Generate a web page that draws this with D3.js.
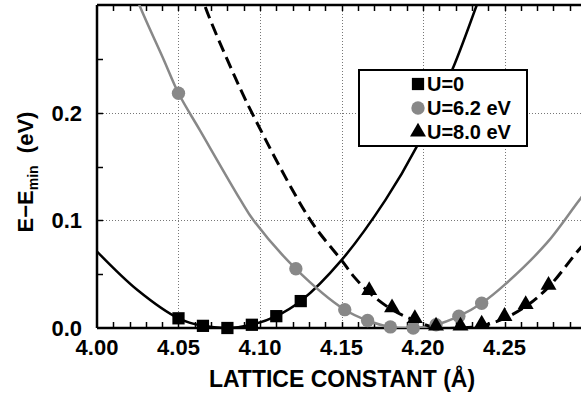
<!DOCTYPE html>
<html>
<head>
<meta charset="utf-8">
<script src="https://cdn.jsdelivr.net/npm/d3@7"></script>
<style>
  body { margin: 0; background: #fff; }
  text { font-family: "Liberation Sans", Arial, sans-serif; font-weight: bold; fill: #000; }
</style>
</head>
<body>
<div id="chart"></div>
<script>
// tick labels
var xTicks = [4.00, 4.05, 4.10, 4.15, 4.20, 4.25];
var yTicks = [0.0, 0.1, 0.2];
var legendLabels = ["U=0", "U=6.2 eV", "U=8.0 eV"];

// U=0 : computed points and fitted curve
var u0X = [4.050, 4.065, 4.080, 4.095, 4.110, 4.125];
var u0E = [0.009, 0.002, 0.000, 0.003, 0.011, 0.025];
var u0CurveX = [4.000, 4.025, 4.050, 4.065, 4.080, 4.095, 4.110, 4.125, 4.150, 4.177, 4.196, 4.218, 4.233, 4.245];
var u0CurveE = [0.071, 0.035, 0.009, 0.002, 0.000, 0.003, 0.011, 0.025, 0.063, 0.119, 0.168, 0.240, 0.300, 0.350];

// U=6.2 eV
var u62X = [4.050, 4.122, 4.152, 4.166, 4.180, 4.194, 4.208, 4.222, 4.236];
var u62E = [0.218, 0.055, 0.017, 0.007, 0.001, 0.000, 0.003, 0.011, 0.023];
var u62CurveX = [4.020, 4.026, 4.041, 4.050, 4.063, 4.088, 4.096, 4.122, 4.152, 4.166, 4.180, 4.194, 4.208, 4.222, 4.236, 4.250, 4.276, 4.297, 4.310];
var u62CurveE = [0.325, 0.300, 0.249, 0.218, 0.184, 0.119, 0.100, 0.055, 0.017, 0.007, 0.001, 0.000, 0.003, 0.011, 0.023, 0.040, 0.079, 0.121, 0.145];

// U=8.0 eV
var u80X = [4.167, 4.181, 4.195, 4.208, 4.223, 4.236, 4.250, 4.263, 4.277];
var u80E = [0.033, 0.017, 0.007, 0.000, 0.000, 0.002, 0.009, 0.020, 0.038];
var u80CurveX = [4.060, 4.066, 4.080, 4.095, 4.131, 4.150, 4.158, 4.167, 4.181, 4.195, 4.208, 4.223, 4.236, 4.250, 4.263, 4.277, 4.297, 4.310];
var u80CurveE = [0.330, 0.300, 0.249, 0.200, 0.100, 0.063, 0.047, 0.033, 0.017, 0.007, 0.000, 0.000, 0.002, 0.009, 0.020, 0.038, 0.075, 0.095];

var W = 581, H = 396;
var plotL = 97, plotR = 586, plotT = 5, plotB = 328;

var svg = d3.select("#chart")
  .append("svg")
    .attr("width", W)
    .attr("height", H);

var x = d3.scaleLinear().domain([4.00, 4.30]).range([plotL, plotR]);
var y = d3.scaleLinear().domain([0, 0.3]).range([plotB, plotT]);
var px = v => Math.round(x(v)) + 0.5;   // snap thin lines to pixels
var py = v => Math.round(y(v)) + 0.5;

svg.append("clipPath").attr("id", "plot")
  .append("rect")
    .attr("x", plotL).attr("y", plotT)
    .attr("width", plotR - plotL).attr("height", plotB - plotT);

// dotted grid
var grid = svg.append("g").attr("stroke", "#777").attr("stroke-width", 1).attr("stroke-dasharray", "1,2");
grid.selectAll(".gx").data(xTicks.slice(1).concat([4.30])).enter().append("line")
  .attr("x1", px).attr("x2", px)
  .attr("y1", plotT).attr("y2", plotB);
grid.selectAll(".gy").data(yTicks.slice(1)).enter().append("line")
  .attr("x1", plotL).attr("x2", plotR)
  .attr("y1", py).attr("y2", py);

// small inward ticks
var xMinor = d3.range(1, 31).map(i => 4.00 + i * 0.01);
var yMinor = [0.05, 0.1, 0.15, 0.2, 0.25];
var ticks = svg.append("g").attr("stroke", "#000").attr("stroke-width", 1.5);
ticks.selectAll(".tb").data(xMinor).enter().append("line")
  .attr("x1", px).attr("x2", px)
  .attr("y1", plotB).attr("y2", plotB - 6);
ticks.selectAll(".tt").data(xMinor).enter().append("line")
  .attr("x1", px).attr("x2", px)
  .attr("y1", plotT).attr("y2", plotT + 6);
ticks.selectAll(".tl").data(yMinor).enter().append("line")
  .attr("x1", plotL).attr("x2", plotL + 6)
  .attr("y1", py).attr("y2", py);

// frame lines
svg.append("line").attr("x1", plotL).attr("x2", W).attr("y1", plotB).attr("y2", plotB)
  .attr("stroke", "#000").attr("stroke-width", 2.5);
svg.append("line").attr("x1", plotL).attr("x2", W).attr("y1", plotT).attr("y2", plotT)
  .attr("stroke", "#000").attr("stroke-width", 2.5);
svg.append("line").attr("x1", plotL).attr("x2", plotL).attr("y1", plotT).attr("y2", plotB)
  .attr("stroke", "#000").attr("stroke-width", 2.5);

// tick labels
svg.selectAll(".xl").data(xTicks).enter().append("text")
  .attr("x", d => x(d)).attr("y", 355)
  .attr("text-anchor", "middle").style("font-size", "22px")
  .text(d => d.toFixed(2));
svg.selectAll(".yl").data(yTicks).enter().append("text")
  .attr("x", 82).attr("y", d => y(d) + 8)
  .attr("text-anchor", "end").style("font-size", "22px")
  .text(d => d.toFixed(1));

// axis titles
svg.append("text")
  .attr("x", 342).attr("y", 387)
  .attr("text-anchor", "middle").style("font-size", "23px")
  .text("LATTICE CONSTANT (Å)");
var yt = svg.append("text")
  .attr("transform", "translate(33,172) rotate(-90)")
  .attr("text-anchor", "middle").style("font-size", "22px");
yt.append("tspan").text("E\u2212E");
yt.append("tspan").attr("dy", 5).style("font-size", "14px").text("min");
yt.append("tspan").attr("dy", -5).text("\u00a0\u00a0(eV)");

// curves
var line = d3.line().x(d => x(d[0])).y(d => y(d[1])).curve(d3.curveCatmullRom);
var curves = svg.append("g").attr("clip-path", "url(#plot)").attr("fill", "none");
curves.append("path")
  .attr("d", line(d3.zip(u0CurveX, u0CurveE)))
  .attr("stroke", "#000").attr("stroke-width", 2.5);
curves.append("path")
  .attr("d", line(d3.zip(u62CurveX, u62CurveE)))
  .attr("stroke", "#888").attr("stroke-width", 2.5);
curves.append("path")
  .attr("d", line(d3.zip(u80CurveX, u80CurveE)))
  .attr("stroke", "#000").attr("stroke-width", 3).attr("stroke-dasharray", "12,6");

// markers
var sq = d3.symbol().type(d3.symbolSquare).size(150);
var ci = d3.symbol().type(d3.symbolCircle).size(140);
var tr = d3.symbol().type(d3.symbolTriangle).size(110);
svg.append("g").selectAll("path").data(d3.zip(u0X, u0E)).enter().append("path")
  .attr("d", sq).attr("transform", d => "translate(" + x(d[0]) + "," + y(d[1]) + ")")
  .attr("fill", "#000");
svg.append("g").selectAll("path").data(d3.zip(u62X, u62E)).enter().append("path")
  .attr("d", ci).attr("transform", d => "translate(" + x(d[0]) + "," + y(d[1]) + ")")
  .attr("fill", "#888");
svg.append("g").selectAll("path").data(d3.zip(u80X, u80E)).enter().append("path")
  .attr("d", tr).attr("transform", d => "translate(" + x(d[0]) + "," + (y(d[1]) - 2) + ")")
  .attr("fill", "#000");

// legend
var lg = svg.append("g");
lg.append("rect").attr("x", 359).attr("y", 70).attr("width", 168).attr("height", 76)
  .attr("fill", "#fff").attr("stroke", "#000").attr("stroke-width", 2);
var symbols = [sq, ci, tr];
var fills = ["#000", "#888", "#000"];
legendLabels.forEach(function(t, i) {
  var cy = 84 + i * 24;
  lg.append("path").attr("d", symbols[i]).attr("fill", fills[i])
    .attr("transform", "translate(418," + cy + ")");
  lg.append("text").attr("x", 427).attr("y", cy + 7)
    .style("font-size", "20px").text(t);
});
</script>
</body>
</html>
